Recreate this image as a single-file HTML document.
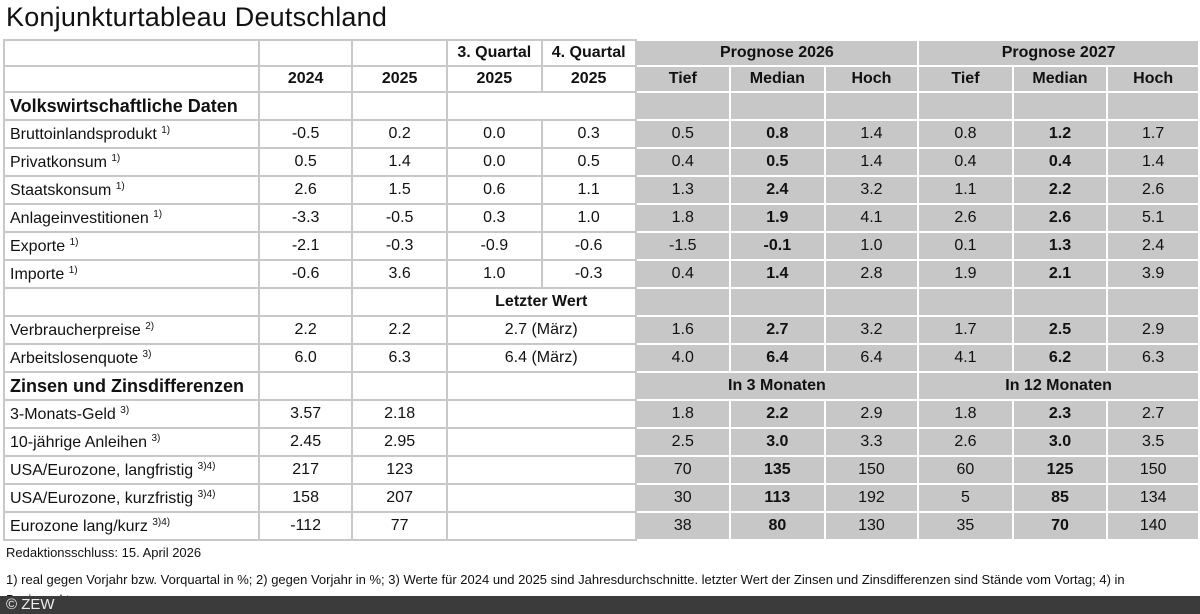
<!DOCTYPE html>
<html><head><meta charset="utf-8"><style>
html,body{margin:0;padding:0;width:1200px;height:614px;overflow:hidden;background:#fff;font-family:"Liberation Sans",sans-serif;color:#111}
h1{position:absolute;left:6px;top:2px;margin:0;font-weight:normal;font-size:27px;letter-spacing:0.2px}
table{position:absolute;left:3px;top:39px;border-collapse:collapse;table-layout:fixed;font-size:16px}
td{height:26px;padding:0;text-align:center;border:2px solid #c8c8c8;white-space:nowrap;overflow:hidden}
td.l{text-align:left;padding-left:5px}
td.g{background:#c7c7c7;border:2px solid #fff}
td.b{font-weight:bold}
td.sec{font-weight:bold;font-size:18px;text-align:left;padding-left:5px}
tr.h td{height:24px}
sup{font-size:10px;vertical-align:6px}
.f{position:absolute;left:6px;font-size:13px;white-space:nowrap}
.bar{position:absolute;left:0;top:596px;width:1200px;height:18px;background:#3b3b3b;color:#eee;font-size:15px;line-height:18px;padding-left:6px;box-sizing:border-box}
</style></head><body>
<h1>Konjunkturtableau Deutschland</h1>
<table>
<colgroup><col style="width:255px"><col style="width:94px"><col style="width:95px"><col style="width:95px"><col style="width:94px"><col style="width:95px"><col style="width:95px"><col style="width:94px"><col style="width:95px"><col style="width:95px"><col style="width:92px"></colgroup>
<tr class="h"><td></td><td></td><td></td><td class="b">3. Quartal</td><td class="b">4. Quartal</td><td class="g b" colspan="3">Prognose 2026</td><td class="g b" colspan="3">Prognose 2027</td></tr>
<tr class="h"><td></td><td class="b">2024</td><td class="b">2025</td><td class="b">2025</td><td class="b">2025</td><td class="g b">Tief</td><td class="g b">Median</td><td class="g b">Hoch</td><td class="g b">Tief</td><td class="g b">Median</td><td class="g b">Hoch</td></tr>
<tr><td class="sec">Volkswirtschaftliche Daten</td><td></td><td></td><td colspan="2"></td><td class="g"></td><td class="g"></td><td class="g"></td><td class="g"></td><td class="g"></td><td class="g"></td></tr>
<tr><td class="l">Bruttoinlandsprodukt <sup>1)</sup></td><td>-0.5</td><td>0.2</td><td>0.0</td><td>0.3</td><td class="g">0.5</td><td class="g b">0.8</td><td class="g">1.4</td><td class="g">0.8</td><td class="g b">1.2</td><td class="g">1.7</td></tr>
<tr><td class="l">Privatkonsum <sup>1)</sup></td><td>0.5</td><td>1.4</td><td>0.0</td><td>0.5</td><td class="g">0.4</td><td class="g b">0.5</td><td class="g">1.4</td><td class="g">0.4</td><td class="g b">0.4</td><td class="g">1.4</td></tr>
<tr><td class="l">Staatskonsum <sup>1)</sup></td><td>2.6</td><td>1.5</td><td>0.6</td><td>1.1</td><td class="g">1.3</td><td class="g b">2.4</td><td class="g">3.2</td><td class="g">1.1</td><td class="g b">2.2</td><td class="g">2.6</td></tr>
<tr><td class="l">Anlageinvestitionen <sup>1)</sup></td><td>-3.3</td><td>-0.5</td><td>0.3</td><td>1.0</td><td class="g">1.8</td><td class="g b">1.9</td><td class="g">4.1</td><td class="g">2.6</td><td class="g b">2.6</td><td class="g">5.1</td></tr>
<tr><td class="l">Exporte <sup>1)</sup></td><td>-2.1</td><td>-0.3</td><td>-0.9</td><td>-0.6</td><td class="g">-1.5</td><td class="g b">-0.1</td><td class="g">1.0</td><td class="g">0.1</td><td class="g b">1.3</td><td class="g">2.4</td></tr>
<tr><td class="l">Importe <sup>1)</sup></td><td>-0.6</td><td>3.6</td><td>1.0</td><td>-0.3</td><td class="g">0.4</td><td class="g b">1.4</td><td class="g">2.8</td><td class="g">1.9</td><td class="g b">2.1</td><td class="g">3.9</td></tr>
<tr><td></td><td></td><td></td><td colspan="2" class="b">Letzter Wert</td><td class="g"></td><td class="g"></td><td class="g"></td><td class="g"></td><td class="g"></td><td class="g"></td></tr>
<tr><td class="l">Verbraucherpreise <sup>2)</sup></td><td>2.2</td><td>2.2</td><td colspan="2">2.7 (März)</td><td class="g">1.6</td><td class="g b">2.7</td><td class="g">3.2</td><td class="g">1.7</td><td class="g b">2.5</td><td class="g">2.9</td></tr>
<tr><td class="l">Arbeitslosenquote <sup>3)</sup></td><td>6.0</td><td>6.3</td><td colspan="2">6.4 (März)</td><td class="g">4.0</td><td class="g b">6.4</td><td class="g">6.4</td><td class="g">4.1</td><td class="g b">6.2</td><td class="g">6.3</td></tr>
<tr><td class="sec">Zinsen und Zinsdifferenzen</td><td></td><td></td><td colspan="2"></td><td class="g b" colspan="3">In 3 Monaten</td><td class="g b" colspan="3">In 12 Monaten</td></tr>
<tr><td class="l">3-Monats-Geld <sup>3)</sup></td><td>3.57</td><td>2.18</td><td colspan="2"></td><td class="g">1.8</td><td class="g b">2.2</td><td class="g">2.9</td><td class="g">1.8</td><td class="g b">2.3</td><td class="g">2.7</td></tr>
<tr><td class="l">10-jährige Anleihen <sup>3)</sup></td><td>2.45</td><td>2.95</td><td colspan="2"></td><td class="g">2.5</td><td class="g b">3.0</td><td class="g">3.3</td><td class="g">2.6</td><td class="g b">3.0</td><td class="g">3.5</td></tr>
<tr><td class="l">USA/Eurozone, langfristig <sup>3)4)</sup></td><td>217</td><td>123</td><td colspan="2"></td><td class="g">70</td><td class="g b">135</td><td class="g">150</td><td class="g">60</td><td class="g b">125</td><td class="g">150</td></tr>
<tr><td class="l">USA/Eurozone, kurzfristig <sup>3)4)</sup></td><td>158</td><td>207</td><td colspan="2"></td><td class="g">30</td><td class="g b">113</td><td class="g">192</td><td class="g">5</td><td class="g b">85</td><td class="g">134</td></tr>
<tr><td class="l">Eurozone lang/kurz <sup>3)4)</sup></td><td>-112</td><td>77</td><td colspan="2"></td><td class="g">38</td><td class="g b">80</td><td class="g">130</td><td class="g">35</td><td class="g b">70</td><td class="g">140</td></tr>
</table>
<div class="f" style="top:545px">Redaktionsschluss: 15. April 2026</div>
<div class="f" style="top:572px">1) real gegen Vorjahr bzw. Vorquartal in %; 2) gegen Vorjahr in %; 3) Werte für 2024 und 2025 sind Jahresdurchschnitte. letzter Wert der Zinsen und Zinsdifferenzen sind Stände vom Vortag; 4) in</div>
<div class="f" style="top:592px">Basispunkten</div>
<div class="bar">© ZEW</div>
</body></html>
